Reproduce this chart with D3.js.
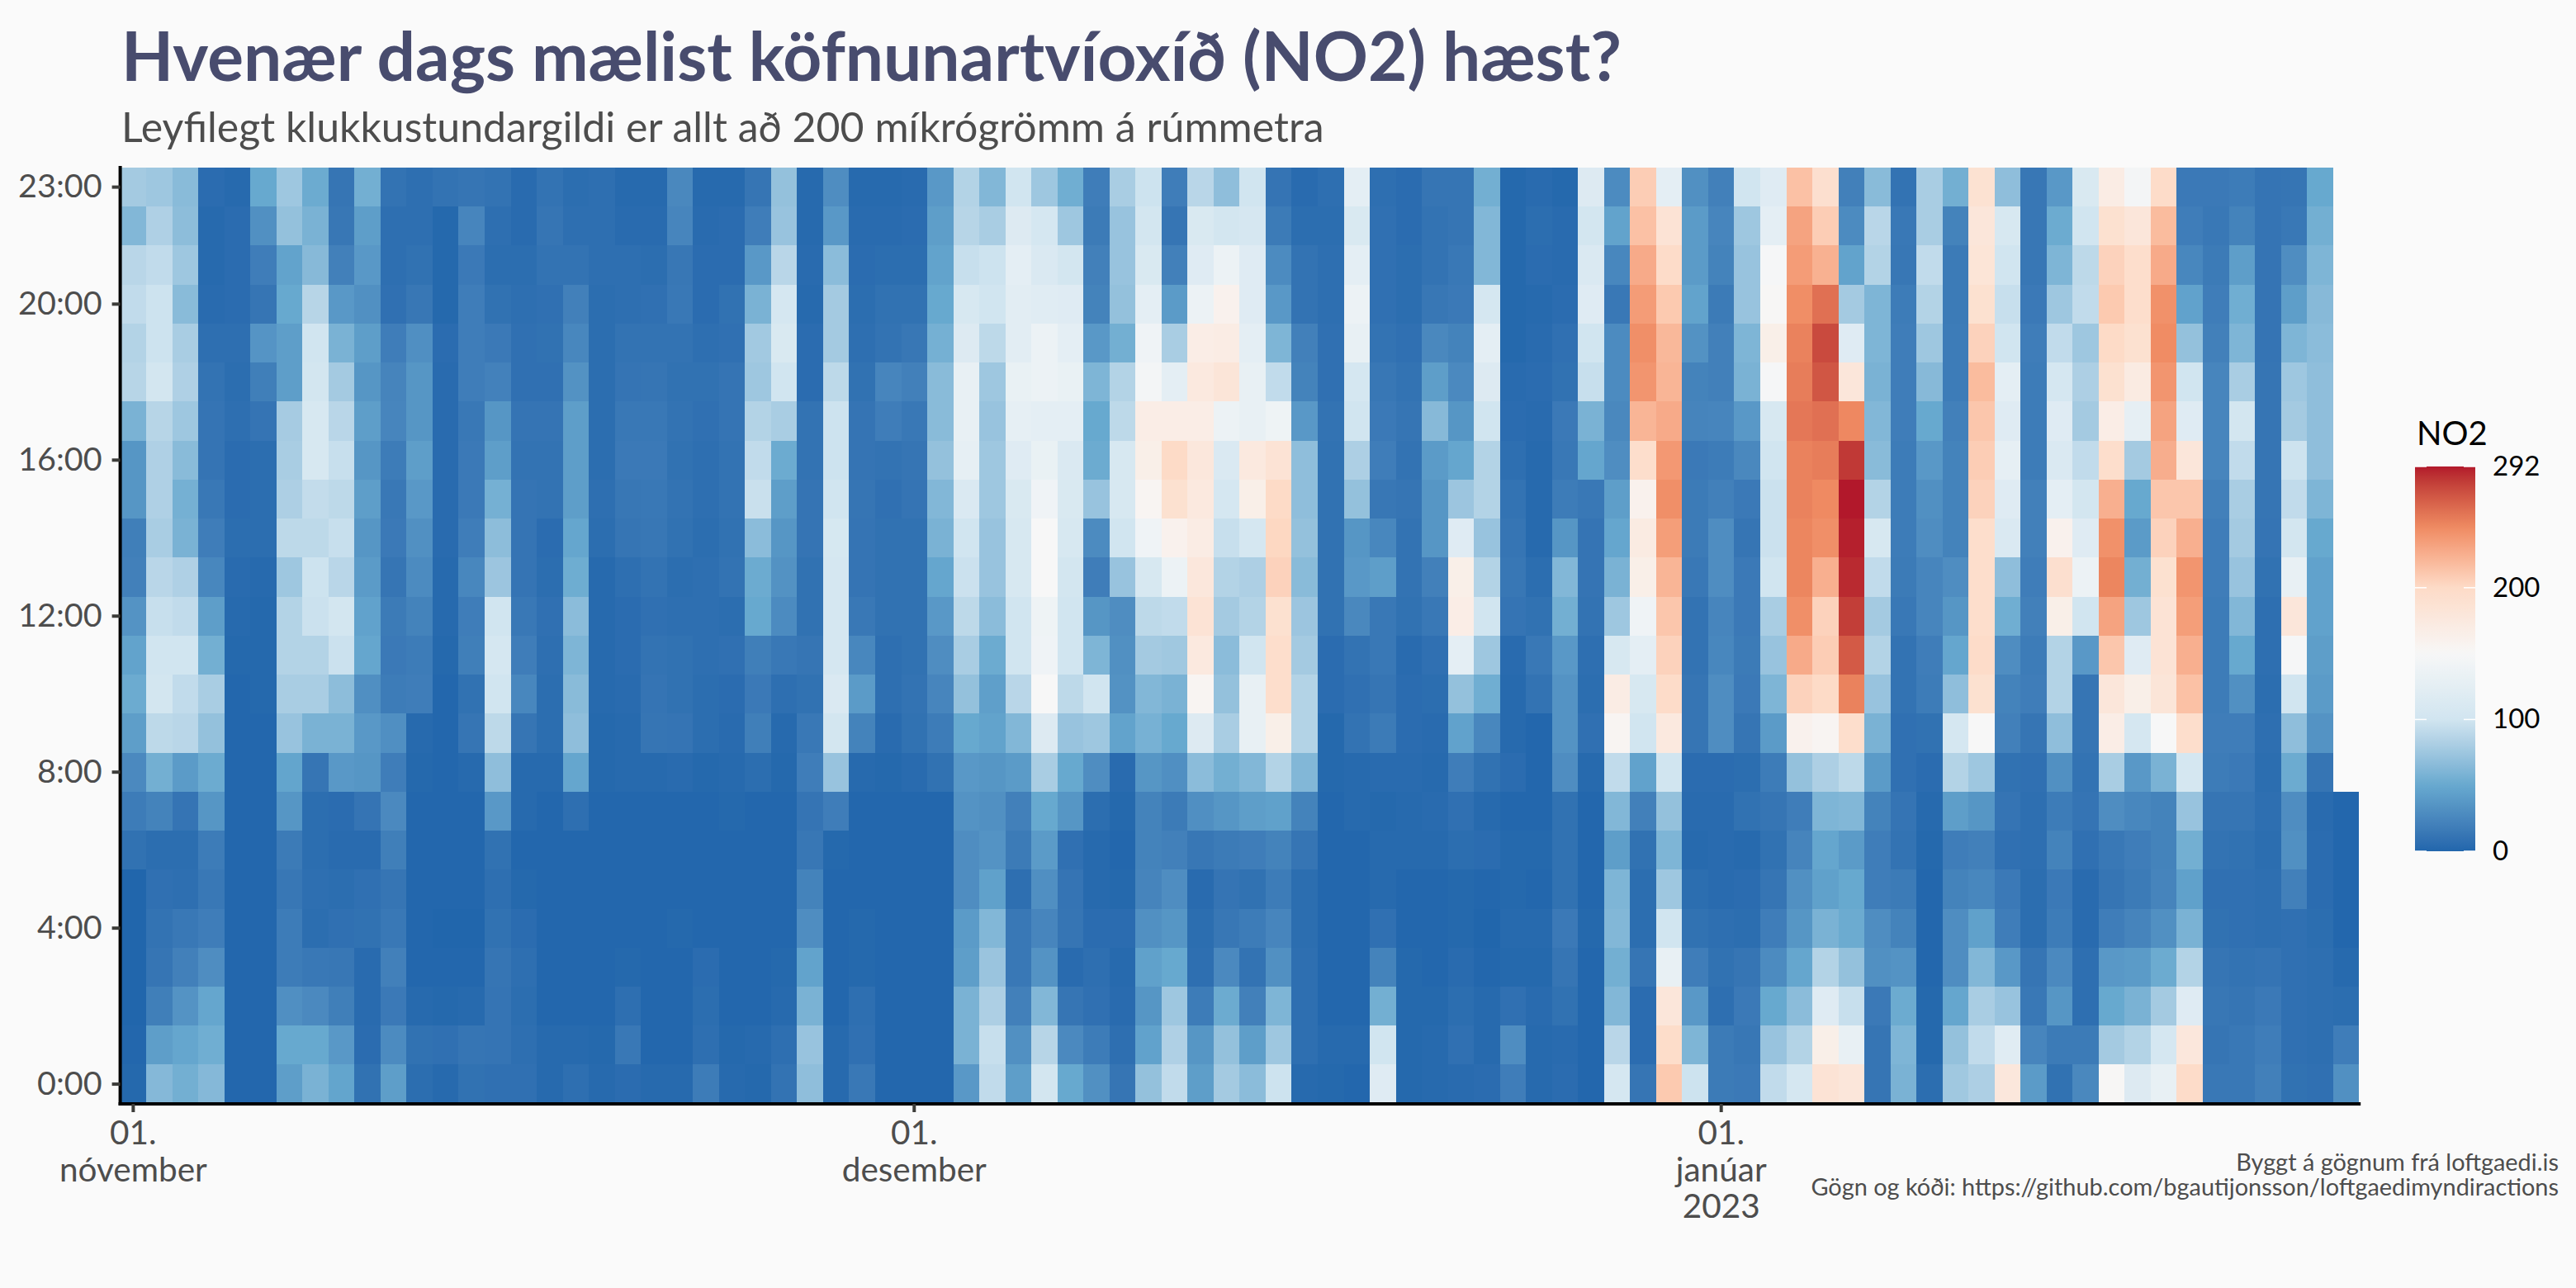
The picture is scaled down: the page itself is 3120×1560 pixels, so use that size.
<!DOCTYPE html>
<html>
<head>
<meta charset="utf-8">
<script src="https://cdn.jsdelivr.net/npm/d3@7"></script>
<style>
  html, body { margin: 0; background: #fafafa; }
  svg { display: block; font-family: Lato, sans-serif; }
</style>
</head>
<body>
<svg id="chart" width="3120" height="1560"></svg>
<script>
// NO2 values per hour of the day, one value per day from 1 Nov 2022 to 25 Jan 2023
const h00 = [2,63,55,63,1,1,42,58,47,9,42,6,3,9,8,8,3,7,3,5,3,3,17,3,2, 10,68,3,14,1,1,1,38,92,42,102,50,32,12,70,92,42,78,66,98,3,2,1,118,2, 3,4,5,18,3,5,1,105,12,210,98,16,15,92,105,185,180,12,58,6,76,82,178,40, 9,26,152,115,130,198,14,14,20,9,8,32];
const h01 = [1,42,48,54,1,1,50,50,38,5,28,9,8,12,11,7,3,3,2,14,1,1,7,2,3, 7,72,3,8,1,1,1,58,95,32,87,27,17,7,45,83,36,70,42,75,7,3,3,100,2, 3,8,3,30,3,4,1,88,5,197,60,16,13,72,85,165,130,12,60,2,70,92,120,24, 16,16,78,85,105,178,12,14,18,8,7,18];
const h02 = [0,19,34,48,1,1,31,27,19,4,15,3,2,3,11,6,1,1,1,7,1,1,6,1,1, 3,58,1,7,1,1,1,58,82,20,62,12,8,4,36,75,17,52,20,60,7,1,1,55,2, 2,6,3,8,4,9,1,62,5,180,38,7,15,50,66,118,95,15,52,2,48,80,72,14, 36,7,50,58,78,118,13,12,15,8,7,6];
const h03 = [0,12,20,30,1,1,17,14,13,4,20,1,1,1,12,7,1,1,1,2,1,1,5,1,1, 2,46,1,2,1,1,1,42,73,14,34,4,7,3,44,50,7,27,10,32,7,1,1,22,2, 1,4,1,2,2,12,1,55,12,130,18,9,12,28,48,85,70,32,34,1,30,62,38,12, 27,7,38,40,52,85,12,10,11,8,7,3];
const h04 = [0,10,14,18,1,1,17,6,8,9,14,1,0,0,9,5,1,1,1,1,1,2,1,1,1, 1,30,1,2,1,1,1,40,62,14,24,12,5,5,32,36,6,13,17,24,6,1,1,8,1, 1,2,0,3,3,15,2,62,6,100,9,7,6,18,36,58,52,30,22,1,30,44,18,6, 17,4,18,23,32,58,9,8,7,8,6,1];
const h05 = [0,8,7,14,1,1,13,7,6,8,12,1,1,1,7,2,1,1,1,1,1,1,1,1,1, 1,22,1,1,1,1,1,30,44,7,31,11,3,2,23,30,4,11,9,17,6,1,1,3,1, 1,2,1,2,1,9,1,60,6,75,6,4,5,12,32,44,50,18,16,1,22,25,15,6, 15,4,12,16,23,44,8,8,7,20,5,1];
const h06 = [9,6,6,17,1,1,16,6,4,4,19,1,1,1,9,1,1,1,1,1,1,1,1,1,1, 1,13,2,1,1,1,1,30,34,16,40,8,3,1,22,20,13,16,18,22,12,1,1,3,3, 3,6,5,2,2,9,1,42,9,60,3,4,3,9,23,48,40,18,10,2,18,20,8,7, 22,8,14,18,22,55,10,9,6,32,5,1];
const h07 = [17,22,11,36,1,1,36,6,5,11,27,1,1,1,38,3,1,7,1,1,1,1,1,2,1, 1,11,18,1,1,1,1,34,32,20,50,36,6,2,22,16,31,36,42,44,22,1,3,2,3, 4,8,3,1,1,9,1,62,20,70,4,4,9,12,18,60,62,22,11,3,42,36,11,7, 17,11,30,25,22,72,12,12,7,30,4,1];
const h08 = [27,55,40,52,1,1,47,12,38,36,18,2,1,3,68,3,3,48,2,3,3,4,2,3,6, 2,18,72,3,2,4,9,38,36,40,80,50,30,4,36,31,66,55,62,85,62,2,3,4,4, 3,18,9,5,1,30,3,92,45,100,5,5,6,17,70,82,90,40,8,5,85,75,9,8, 32,10,80,38,58,105,17,15,6,52,12,null];
const h09 = [42,90,88,70,1,1,72,58,58,38,31,3,1,12,90,12,6,68,2,3,12,11,6,4,19, 3,14,102,22,4,9,17,50,46,62,115,72,75,46,57,50,115,80,130,165,85,2,10,16,5, 4,45,25,3,1,34,8,155,100,175,12,30,12,40,160,155,195,58,8,9,105,150,20,12, 68,12,168,105,150,195,18,18,7,68,34,null];
const h10 = [52,103,92,80,1,2,80,80,67,31,17,18,1,9,100,25,6,65,3,4,11,9,6,5,15, 7,9,112,40,7,10,24,70,43,88,150,90,100,33,62,58,155,70,130,195,85,5,8,12,5, 6,70,54,3,10,34,6,170,108,198,12,30,15,60,205,200,250,72,10,17,68,190,22,18, 85,12,180,165,182,215,17,32,6,100,40,null];
const h11 = [46,100,100,55,2,2,85,85,97,48,15,17,2,19,105,18,7,60,3,5,10,9,7,8,19, 14,12,105,25,7,9,30,80,52,100,140,100,60,32,78,76,175,66,100,195,78,5,10,14,4, 8,125,75,4,14,38,7,108,125,205,10,25,16,72,228,208,268,85,10,18,48,198,30,17, 85,38,212,118,185,225,17,50,7,148,42,null];
const h12 = [34,95,92,42,3,2,85,97,102,45,16,22,3,18,100,14,8,66,3,5,8,7,7,6,50, 28,9,105,14,9,9,38,90,66,100,138,100,36,30,90,92,185,78,85,190,74,9,26,14,9, 14,168,100,11,9,55,10,75,140,212,10,24,15,80,243,205,280,78,14,24,36,195,54,20, 165,100,232,75,185,235,17,62,7,180,45,null];
const h13 = [20,88,83,25,4,3,75,98,88,40,12,28,3,25,74,11,6,53,3,7,10,6,7,10,52, 33,9,105,11,9,9,48,97,72,108,150,102,18,72,108,135,178,85,82,205,65,9,38,42,10, 20,165,85,13,6,62,11,58,165,222,14,30,15,100,248,225,287,92,16,24,30,195,68,18, 192,135,248,55,190,240,18,72,9,130,45,null];
const h14 = [19,80,58,18,6,6,90,90,95,36,15,32,4,18,67,11,5,48,6,12,13,9,6,9,66, 36,11,107,11,9,9,58,100,72,108,150,108,28,100,140,160,170,95,105,202,70,9,36,25,10, 36,118,72,12,3,36,11,48,172,235,16,30,12,97,248,243,290,108,17,30,22,195,112,20, 160,118,242,40,205,225,18,78,11,102,50,null];
const h15 = [36,83,56,14,5,6,82,93,90,42,14,38,4,15,56,11,10,42,7,13,14,10,7,10,96, 42,11,100,12,8,11,62,112,75,110,140,110,72,108,155,190,175,105,165,200,68,9,70,13,12, 36,74,85,10,3,17,14,42,160,243,16,20,15,97,250,246,292,85,17,32,22,205,118,20, 125,102,225,50,212,212,20,80,12,92,60,null];
const h16 = [36,83,65,11,5,6,80,108,95,36,17,42,4,15,42,10,10,42,6,15,15,9,7,10,92, 52,10,98,11,10,12,70,128,75,118,132,112,52,108,165,200,178,112,175,185,68,9,82,18,10, 40,48,85,7,3,14,48,30,195,238,15,17,26,100,250,252,282,65,17,38,22,208,128,17, 112,92,195,78,226,180,24,92,12,98,68,null];
const h17 = [58,87,75,11,7,11,79,108,88,42,24,36,4,14,36,11,11,42,6,14,14,10,8,11,85, 80,10,98,11,18,14,65,130,72,128,125,125,50,90,168,168,168,135,130,138,38,10,100,15,12, 64,36,100,5,4,15,58,26,222,228,23,24,38,108,255,258,247,62,18,50,20,212,118,17, 118,78,168,128,232,118,24,102,12,78,68,null];
const h18 = [87,103,83,10,6,19,42,102,78,36,23,36,4,18,21,8,8,33,6,11,12,9,9,11,75, 100,5,90,9,24,20,65,130,75,132,135,132,60,85,145,125,175,182,130,92,22,8,105,13,10, 42,27,115,4,5,9,95,28,240,222,22,20,58,148,252,270,180,58,18,64,17,218,125,17, 105,82,190,172,240,100,24,80,12,75,68,null];
const h19 = [85,98,80,7,7,35,42,100,58,42,18,31,5,18,15,8,9,25,6,10,10,10,7,8,77, 110,5,78,7,10,13,56,115,90,122,135,125,38,55,140,80,168,170,125,60,20,8,130,10,8, 26,22,125,2,4,8,100,28,243,220,33,20,60,165,250,275,118,60,18,75,17,205,100,18, 92,75,200,190,245,70,20,60,11,60,66,null];
const h20 = [92,98,65,4,5,12,50,87,38,32,8,13,2,18,9,7,8,20,6,7,8,14,5,9,58, 105,3,78,6,9,9,50,108,100,122,120,118,22,70,125,40,135,160,118,38,10,7,135,8,6, 13,15,105,2,3,5,118,14,236,210,46,16,72,152,244,258,78,60,17,85,16,190,95,15, 75,92,210,195,242,45,18,54,11,42,64,null];
const h21 = [88,92,75,3,5,18,46,64,20,38,7,9,2,15,6,6,10,10,7,7,6,13,5,5,38, 88,4,66,5,6,6,46,95,98,125,112,102,20,72,110,20,118,135,118,28,10,7,125,8,6, 10,14,62,2,5,4,112,25,228,198,40,22,72,148,236,224,46,85,13,92,16,183,100,13, 60,90,205,195,228,25,16,42,11,30,60,null];
const h22 = [62,83,67,3,5,32,70,58,13,42,7,7,2,24,7,4,12,7,7,4,4,24,4,5,18, 72,3,38,4,4,5,42,87,80,115,105,75,16,72,102,12,110,102,106,16,6,6,110,8,5, 10,12,62,2,6,4,102,46,215,185,40,24,75,125,232,208,28,88,14,80,22,180,108,13, 52,100,190,180,218,18,14,22,11,14,55,null];
const h23 = [78,75,65,5,3,50,75,52,12,55,10,7,10,12,10,4,10,6,7,3,3,26,3,3,12, 70,3,30,3,3,4,38,85,62,100,75,54,18,80,98,18,88,68,100,11,4,7,125,7,5, 12,12,55,2,4,2,115,28,208,125,32,20,100,118,215,192,20,65,10,80,55,188,68,13, 38,110,170,145,198,15,15,17,11,12,50,null];
const hourRows = [h00,h01,h02,h03,h04,h05,h06,h07,h08,h09,h10,h11,h12,h13,h14,h15,h16,h17,h18,h19,h20,h21,h22,h23];

const yTicks = [0, 4, 8, 12, 16, 20, 23];
const xTicks = [0, 30, 61];
const xTickDay = ['01.', '01.', '01.'];
const xTickMonth = ['nóvember', 'desember', 'janúar'];
const xTickYear = ['', '', '2023'];
const legendTicks = [0, 100, 200, 292];
const colorStops = [0, 50, 100, 150, 200, 246, 292];
const colorValues = ['#2166AC', '#67A9CF', '#D1E5F0', '#F7F7F7', '#FDDBC7', '#EF8A62', '#B2182B'];

const fig = {
  left: 145.6, right: 2857.2, top: 203, bottom: 1336.7,
  legend: {left: 2925, width: 73, top: 565, bottom: 1031}
};
const svg = d3.select('#chart');

var x = d3.scaleBand().domain(d3.range(hourRows[0].length)).range([fig.left, fig.right]);
var y = d3.scaleBand().domain(d3.range(24)).range([fig.bottom, fig.top]);
var color = d3.scaleLinear().domain(colorStops).range(colorValues).interpolate(d3.interpolateLab);

// cells
const cells = [];
hourRows.forEach((row, hour) => row.forEach((value, day) => {
  if (value !== null) cells.push({hour, day, value});
}));

svg.append('g')
  .selectAll('rect')
  .data(cells)
  .join('rect')
    .attr('x', d => x(d.day))
    .attr('y', d => y(d.hour))
    .attr('width', x.bandwidth())
    .attr('height', y.bandwidth())
    .attr('fill', d => color(d.value))
    .attr('shape-rendering', 'crispEdges')
;

// Axes
const yAxis = d3.axisLeft(y)
  .tickValues(yTicks)
  .tickFormat(d => d + ':00')
  .tickSizeInner(10)
  .tickSizeOuter(0)
  .tickPadding(12)
  .offset(0)
;
const xAxis = d3.axisBottom(x)
  .tickValues(xTicks)
  .tickFormat('')
  .tickSizeInner(10)
  .tickSizeOuter(0)
  .offset(0)
;
const gy = svg.append('g')
  .attr('transform', 'translate(' + fig.left + ',0)')
  .call(yAxis);
const gx = svg.append('g')
  .attr('transform', 'translate(0,' + (fig.bottom + 0.3) + ')')
  .call(xAxis);

[gy, gx].forEach(g => {
  g.select('.domain').attr('stroke', '#000').attr('stroke-width', 4).attr('stroke-linecap', 'square');
  g.selectAll('.tick line').attr('stroke', '#3d3d3a').attr('stroke-width', 4);
});
gy.selectAll('.tick text')
  .attr('font-family', 'Lato')
  .attr('font-size', 39.5)
  .attr('fill', '#4d4d4d')
;
gx.selectAll('.tick text').remove();
gx.selectAll('.tick').each(function(d, i) {
  const label = d3.select(this).append('text')
    .attr('font-family', 'Lato')
    .attr('font-size', 40.5)
    .attr('fill', '#4d4d4d')
    .attr('text-anchor', 'middle');
  [xTickDay[i], xTickMonth[i], xTickYear[i]].forEach((line, k) => {
    label.append('tspan').attr('x', 0).attr('y', 49 + k * 44.5).text(line);
  });
});

// title
svg.append('text')
  .attr('x', 147)
  .attr('y', 98)
  .attr('font-size', 82)
  .attr('font-weight', 700)
  .attr('fill', '#484c6e')
  .text('Hvenær dags mælist köfnunartvíoxíð (NO2) hæst?')
;
svg.append('text')
  .attr('x', 147)
  .attr('y', 172)
  .attr('font-size', 50)
  .attr('fill', '#4d4d4d')
  .text('Leyfilegt klukkustundargildi er allt að 200 míkrógrömm á rúmmetra')
;

// caption
svg.append('text')
  .attr('x', 3099)
  .attr('y', 1418)
  .attr('text-anchor', 'end')
  .attr('font-size', 28.9)
  .attr('fill', '#4d4d4d')
  .text('Byggt á gögnum frá loftgaedi.is')
;
svg.append('text')
  .attr('x', 3099)
  .attr('y', 1448)
  .attr('text-anchor', 'end')
  .attr('font-size', 28.9)
  .attr('fill', '#4d4d4d')
  .text('Gögn og kóði: https://github.com/bgautijonsson/loftgaedimyndiractions')
;

// legend
const lg = fig.legend;
var legendY = d3.scaleLinear().domain([0, 292]).range([lg.bottom, lg.top]);

const gradient = svg.append('defs').append('linearGradient')
  .attr('id', 'no2-bar')
  .attr('x1', 0).attr('x2', 0).attr('y1', 1).attr('y2', 0);
d3.range(0, 293, 4).forEach(v => {
  gradient.append('stop')
    .attr('offset', v / 292)
    .attr('stop-color', color(v));
});
svg.append('rect')
  .attr('x', lg.left)
  .attr('y', lg.top)
  .attr('width', lg.width)
  .attr('height', lg.bottom - lg.top)
  .attr('fill', 'url(#no2-bar)')
;
legendTicks.forEach(v => {
  [lg.left, lg.left + lg.width - 14].forEach(tx => {
    svg.append('line')
      .attr('x1', tx).attr('x2', tx + 14)
      .attr('y1', legendY(v)).attr('y2', legendY(v))
      .attr('stroke', 'white')
      .attr('stroke-width', 1.5);
  });
});
const gl = svg.append('g')
  .attr('transform', 'translate(' + (lg.left + lg.width) + ',0)')
  .call(d3.axisRight(legendY).tickValues(legendTicks).tickFormat(d3.format('d')).tickSize(0).tickPadding(21));
gl.select('.domain').remove();
gl.selectAll('text')
  .attr('font-family', 'Lato')
  .attr('font-size', 33)
  .attr('fill', '#000')
;
svg.append('text')
  .attr('x', 2927)
  .attr('y', 539)
  .attr('font-size', 40)
  .attr('fill', '#000')
  .text('NO2')
;
</script>
</body>
</html>
